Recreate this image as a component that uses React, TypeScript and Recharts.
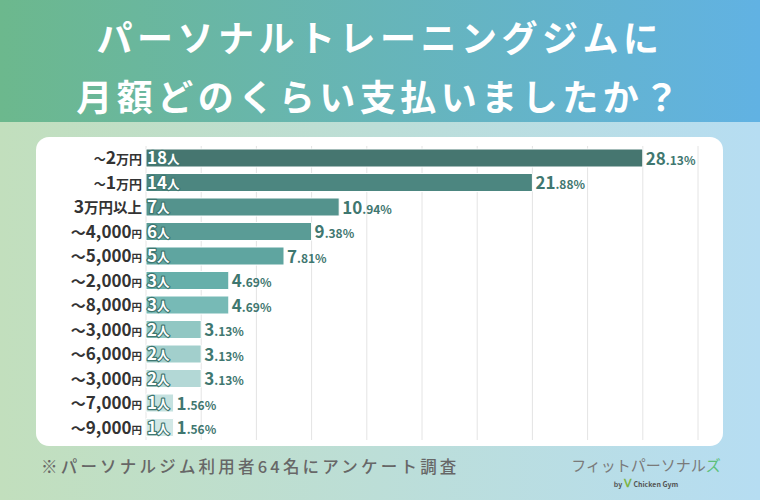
import { BarChart, Bar, XAxis, YAxis, CartesianGrid, Cell, LabelList } from 'recharts'

const categories = ['〜2万円', '〜1万円', '3万円以上', '〜4,000円', '〜5,000円', '〜2,000円', '〜8,000円', '〜3,000円', '〜6,000円', '〜3,000円', '〜7,000円', '〜9,000円']
const counts = [18, 14, 7, 6, 5, 3, 3, 2, 2, 2, 1, 1]
const percents = ['28.13', '21.88', '10.94', '9.38', '7.81', '4.69', '4.69', '3.13', '3.13', '3.13', '1.56', '1.56']
const xTicks = [0, 2, 4, 6, 8, 10, 12, 14, 16, 18, 20]

const colors = ['#467670', '#4c8680', '#54938d', '#5a9c96', '#5fa5a0', '#66afaa', '#77bab6', '#91c7c3', '#a2cfcc', '#b3d8d6', '#c4e1df', '#d2e8e6']

const data = categories.map((name, i) => ({ id: `r${i}`, name, count: counts[i], pct: percents[i] }))

const FONT = '"Noto Sans CJK JP", "Noto Sans", sans-serif'
const TEAL = '#3f7770'

function CategoryTick(props: any) {
  const { y, index } = props
  const label: string = categories[index] ?? ''
  let parts: { t: string; s: number }[] = []
  const man = label.match(/^(〜?)(\d+)(万円.*)$/)
  if (man) {
    if (man[1]) parts.push({ t: man[1], s: 12 })
    parts.push({ t: man[2], s: 17.5 })
    parts.push({ t: man[3], s: man[3].length > 2 ? 14.5 : 13 })
  } else {
    const m = label.match(/^(〜)([\d,]+)(円)$/)
    if (m) {
      parts = [{ t: m[1], s: 15 }, { t: m[2], s: 17 }, { t: m[3], s: 10.5 }]
    } else {
      parts = [{ t: label, s: 14 }]
    }
  }
  return (
    <text x={142} y={y} dy={6} textAnchor="end" fill="#333" fontFamily={FONT} fontWeight={700}>
      {parts.map((p, i) => (
        <tspan key={i} fontSize={p.s}>{p.t}</tspan>
      ))}
    </text>
  )
}

function InnerLabel(props: any) {
  const { x, y, height, index } = props
  return (
    <text
      x={x + 1}
      y={y + height / 2}
      dy={6}
      fill="#fff"
      stroke={TEAL}
      strokeWidth={2.4}
      paintOrder="stroke"
      strokeLinejoin="round"
      fontFamily={FONT}
      fontWeight={700}
    >
      <tspan fontSize={17}>{counts[index]}</tspan>
      <tspan fontSize={12.5}>人</tspan>
    </text>
  )
}

function ValueLabel(props: any) {
  const { x, y, width, height, index } = props
  const [whole, dec] = percents[index].split('.')
  return (
    <text x={x + width + 3} y={y + height / 2} dy={6.5} fill={TEAL} fontFamily={FONT} fontWeight={700}>
      <tspan fontSize={17}>{whole}</tspan>
      <tspan fontSize={12}>.{dec}%</tspan>
    </text>
  )
}

export default function App() {
  return (
    <div
      style={{
        position: 'fixed',
        left: 0,
        top: 0,
        width: 760,
        height: 500,
        overflow: 'hidden',
        background: 'linear-gradient(to right, #c2dfbd, #b6ddf2)',
        fontFamily: FONT,
      }}
    >
      <div
        style={{
          position: 'absolute',
          left: 0,
          top: 0,
          width: 760,
          height: 122,
          background: 'linear-gradient(to right, #6cb88d, #61b2e3)',
          color: '#fff',
          fontWeight: 700,
          fontSize: 36,
          letterSpacing: 4.5,
          textAlign: 'center',
        }}
      >
        <div style={{ position: 'absolute', left: 0, right: 0, top: 10, lineHeight: '52px' }}>パーソナルトレーニングジムに</div>
        <div style={{ position: 'absolute', left: 0, right: 0, top: 69, lineHeight: '52px' }}>月額どのくらい支払いましたか？</div>
      </div>
      <div
        style={{
          position: 'absolute',
          left: 36,
          top: 137,
          width: 687,
          height: 309,
          background: '#fff',
          borderRadius: 13,
        }}
      />
      <div style={{ position: 'absolute', left: 0, top: 0 }}>
        <BarChart
          width={760}
          height={500}
          layout="vertical"
          data={data}
          margin={{ top: 146, right: 62, bottom: 60, left: 0 }}
        >
          <CartesianGrid horizontal={false} stroke="#e4e4e4" />
          <XAxis type="number" domain={[0, 20]} ticks={xTicks} hide />
          <YAxis
            type="category"
            dataKey="id"
            width={146}
            tickLine={false}
            axisLine={false}
            tick={<CategoryTick />}
            interval={0}
          />
          <Bar dataKey="count" barSize={18} isAnimationActive={false} stroke="#ffffff" strokeWidth={1}>
            {data.map((d, i) => (
              <Cell key={d.id} fill={colors[i]} />
            ))}
            <LabelList dataKey="count" content={<InnerLabel />} />
            <LabelList dataKey="pct" content={<ValueLabel />} />
          </Bar>
        </BarChart>
      </div>
      <div
        style={{
          position: 'absolute',
          left: 41,
          top: 454,
          fontSize: 16.5,
          fontWeight: 500,
          color: '#676767',
          letterSpacing: 3.2,
          whiteSpace: 'nowrap',
          lineHeight: '24px',
        }}
      >
        ※パーソナルジム利用者64名にアンケート調査
      </div>
      <div style={{ position: 'absolute', left: 566, top: 455, width: 160, textAlign: 'center', whiteSpace: 'nowrap' }}>
        <div style={{ fontSize: 15, color: '#7a7a7a', lineHeight: '20px' }}>
          フィットパーソナル<span style={{ color: '#5cc07a' }}>ズ</span>
        </div>
        <div style={{ fontSize: 7, color: '#555', fontWeight: 700, lineHeight: '14px' }}>
          by <span style={{ color: '#7cb342', fontSize: 11 }}>ᐯ</span> Chicken Gym
        </div>
      </div>
    </div>
  )
}
